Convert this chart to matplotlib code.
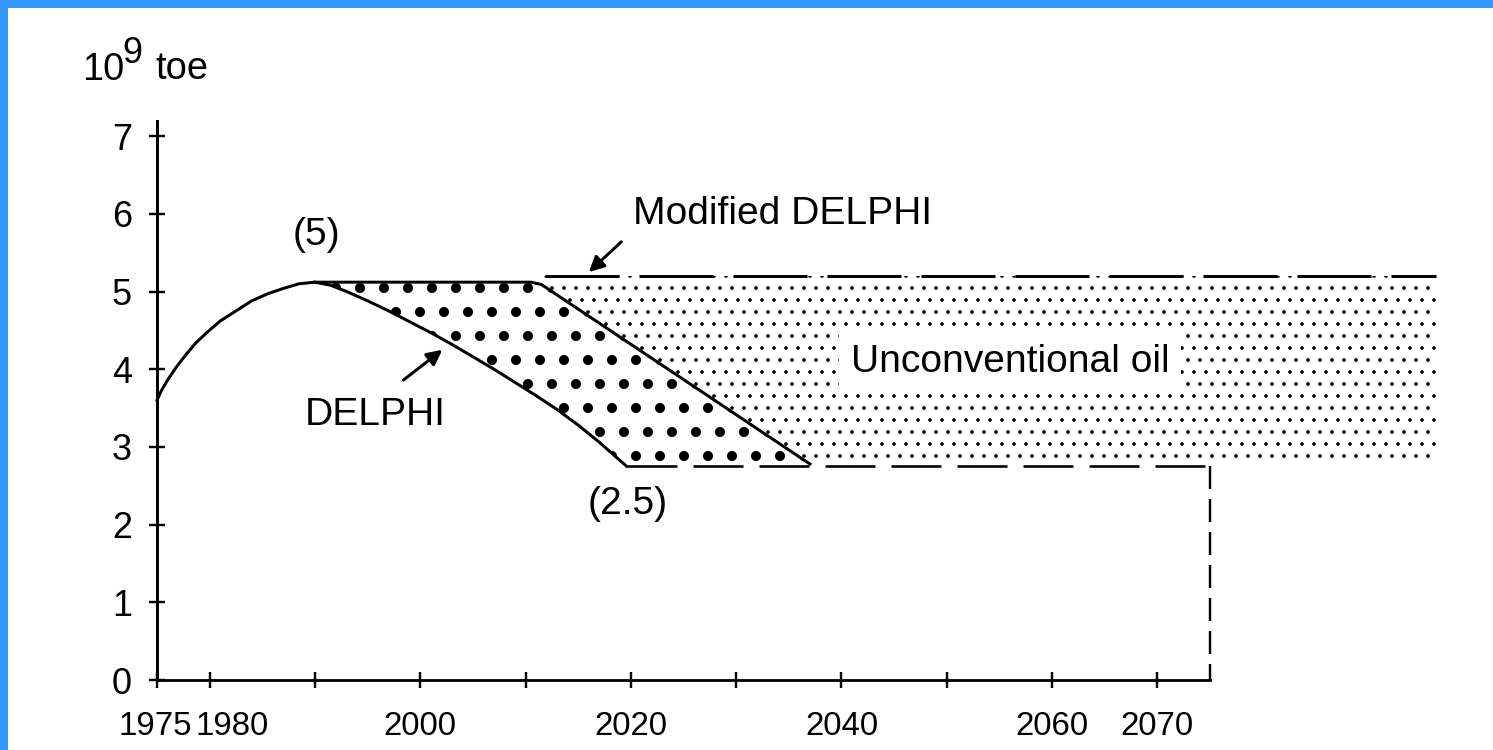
import numpy as np
import matplotlib.pyplot as plt
from matplotlib.patches import Rectangle
from matplotlib.transforms import ScaledTranslation

plt.rcParams['font.family'] = ['Liberation Sans', 'DejaVu Sans']
plt.rcParams['lines.scale_dashes'] = False
plt.rcParams['hatch.color'] = 'black'
plt.rcParams['hatch.linewidth'] = 0.6

# world oil production, 10^9 toe
hist_years = [1975, 1975.4, 1976, 1976.8, 1977.7, 1978.7, 1979.8, 1981, 1982.5, 1984,
              1985.5, 1987, 1988.5, 1990, 2010.5]
hist_vals = [3.6, 3.72, 3.86, 4.02, 4.18, 4.34, 4.48, 4.62, 4.75, 4.88,
             4.97, 5.04, 5.1, 5.12, 5.12]

# modified DELPHI decline
mod_years = [2010.5, 2011.5, 2012.5, 2037]
mod_vals = [5.12, 5.09, 5.0, 2.78]

# DELPHI decline
delphi_years = [1990, 1991.5, 1993, 1995, 1997, 1999, 2001, 2003, 2005, 2007, 2009,
                2011, 2013, 2015, 2017, 2019.6]
delphi_vals = [5.12, 5.08, 5.0, 4.88, 4.75, 4.61, 4.47, 4.32, 4.16, 4.0, 3.83,
               3.66, 3.48, 3.28, 3.06, 2.75]

floor_val = 2.75      # (2.5) plateau
floor_end = 2075
unconv_top = 5.2
unconv_start = 2011.8
unconv_end = 2096.5

xticks = [1975, 1980, 1990, 2000, 2010, 2020, 2030, 2040, 2050, 2060, 2070]
xlabels = ['1975', '1980', '', '2000', '', '2020', '', '2040', '', '2060', '2070']
yticks = [0, 1, 2, 3, 4, 5, 6, 7]

DPI = 144
fig = plt.figure(figsize=(1493 / DPI, 750 / DPI), dpi=DPI)
ax = fig.add_axes([0.0699, 0.04153, 0.9169, 0.8288])
ax.set_xlim(1970, 2100)
ax.set_ylim(-0.5, 7.5)

# big dots between DELPHI and modified DELPHI
big_x = delphi_years + [mod_years[-1]] + mod_years[::-1]
big_y = delphi_vals + [floor_val] + mod_vals[::-1]
big = ax.fill(big_x, big_y, facecolor='white', edgecolor='black', lw=0, hatch='.', zorder=1)[0]
if hasattr(big, 'set_hatch_linewidth'):
    big.set_hatch_linewidth(2.6)

# fine dots: unconventional oil
un_x = [unconv_start, unconv_end, unconv_end] + mod_years[::-1][:-1]
un_y = [unconv_top, unconv_top, mod_vals[-1]] + mod_vals[::-1][:-1]
fine = ax.fill(un_x, un_y, facecolor='white', edgecolor='black', lw=0, hatch='..', zorder=1)[0]
if hasattr(fine, 'set_hatch_linewidth'):
    fine.set_hatch_linewidth(0.6)

# lines
ax.plot(hist_years + mod_years[1:], hist_vals + mod_vals[1:], color='black', lw=1.5, zorder=3)
ax.plot(delphi_years, delphi_vals, color='black', lw=1.5, zorder=3)
ax.plot([delphi_years[-1], floor_end], [floor_val, floor_val], color='black', lw=1.3,
        ls=(0, (25, 8)), zorder=3)
ax.plot([floor_end, floor_end], [floor_val, 0], color='black', lw=1.2, ls=(0, (11.5, 5)), zorder=3)
ax.plot([unconv_start, unconv_end], [unconv_top, unconv_top], color='black', lw=1.5,
        ls=(0, (37, 10)), zorder=3)

# axes
ax.spines[['top', 'right']].set_visible(False)
ax.spines['left'].set_position(('data', 1975))
ax.spines['left'].set_bounds(0, 7.2)
ax.spines['bottom'].set_position(('data', 0))
ax.spines['bottom'].set_bounds(1975, floor_end)
ax.spines['left'].set_linewidth(1.5)
ax.spines['bottom'].set_linewidth(1.4)
ax.set_xticks(xticks)
ax.set_xticklabels(xlabels)
ax.set_yticks(yticks)
ax.tick_params(direction='inout', length=8, width=1.2)
ax.tick_params(axis='x', pad=11.5, labelsize=16.5)
ax.tick_params(axis='y', pad=8.5, labelsize=18)

# the 1975 and 1980 labels sit side by side in the original
lab80 = ax.get_xticklabels()[1]
lab80.set_transform(lab80.get_transform() + ScaledTranslation(11 / 72, 0, fig.dpi_scale_trans))
lab75 = ax.get_xticklabels()[0]
lab75.set_transform(lab75.get_transform() + ScaledTranslation(-1 / 72, 0, fig.dpi_scale_trans))

# labels
ax.text(1967.9, 7.72, '10', fontsize=19, ha='left', va='baseline')
ax.text(1971.7, 7.94, '9', fontsize=18, ha='left', va='baseline')
ax.text(1974.8, 7.74, 'toe', fontsize=19, ha='left', va='baseline')

ax.text(1990.1, 5.73, '(5)', fontsize=19.5, ha='center', va='center')
ax.text(2020.2, 6.0, 'Modified DELPHI', fontsize=19.5, ha='left', va='center')
ax.text(1995.7, 3.41, 'DELPHI', fontsize=19.5, ha='center', va='center')
ax.text(2019.7, 2.27, '(2.5)', fontsize=19.5, ha='center', va='center')
ax.text(2056, 4.09, 'Unconventional oil', fontsize=19.5, ha='center', va='center', zorder=4,
        bbox=dict(facecolor='white', edgecolor='none', pad=6))

arrow = dict(arrowstyle='-|>', color='black', lw=1.5, mutation_scale=16, shrinkA=0, shrinkB=0)
ax.annotate('', xy=(2016.0, 5.25), xytext=(2019.1, 5.64), arrowprops=arrow)
ax.annotate('', xy=(2002.1, 4.25), xytext=(1998.4, 3.86), arrowprops=arrow)

# blue frame of the slide
fig.patches.append(Rectangle((0, 1 - 7 / 750), 1, 7 / 750, transform=fig.transFigure,
                             color='#3399ff', zorder=10))
fig.patches.append(Rectangle((0, 0), 7 / 1493, 1, transform=fig.transFigure,
                             color='#3399ff', zorder=10))

fig.savefig('out.png', dpi=DPI)
